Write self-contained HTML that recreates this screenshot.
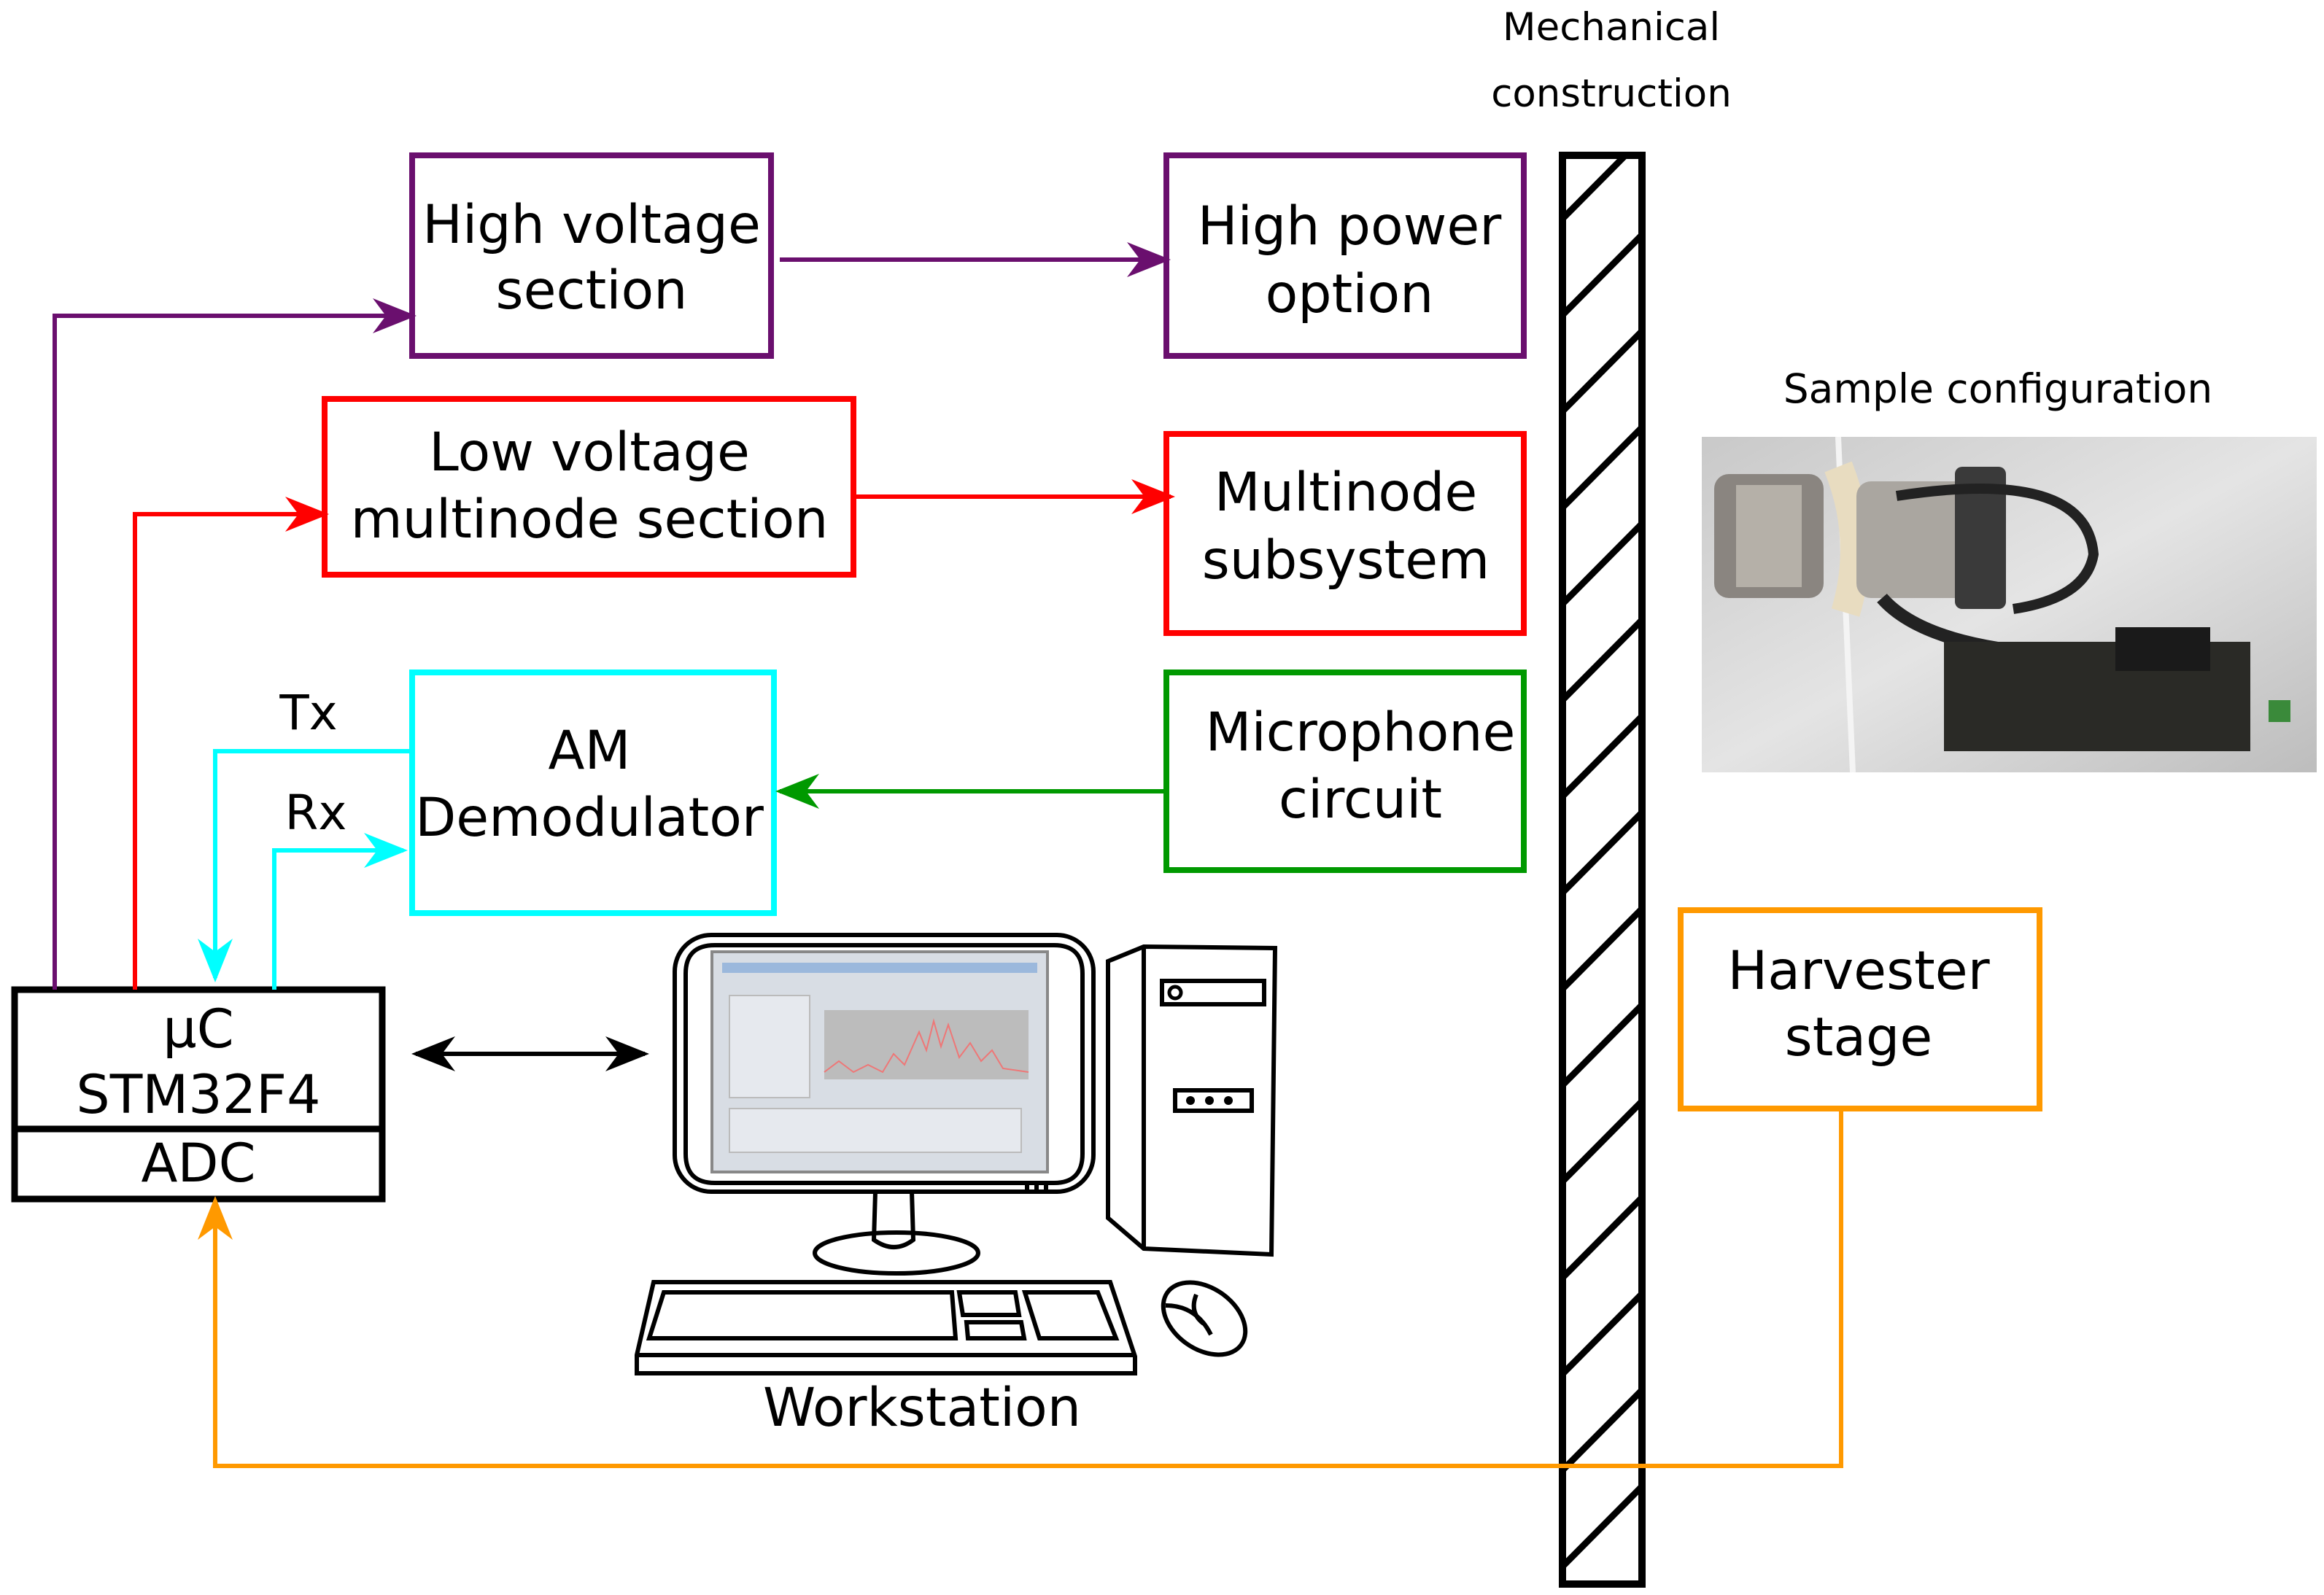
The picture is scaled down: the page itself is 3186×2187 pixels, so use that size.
<!DOCTYPE html>
<html><head><meta charset="utf-8"><style>
html,body{margin:0;padding:0;background:#fff;}
svg{display:block;}
text{font-family:"DejaVu Sans","Liberation Sans",sans-serif;}
</style></head><body>
<svg width="3186" height="2187" viewBox="0 0 3186 2187" xmlns="http://www.w3.org/2000/svg">
<defs>
<marker id="ar" markerWidth="10" markerHeight="8" refX="9" refY="4" orient="auto" viewBox="0 0 10 8" markerUnits="strokeWidth"><path d="M0,0 L10,4 L0,8 L3,4z" fill="#f00"/></marker>
<marker id="ac" markerWidth="10" markerHeight="8" refX="9" refY="4" orient="auto" viewBox="0 0 10 8" markerUnits="strokeWidth"><path d="M0,0 L10,4 L0,8 L3,4z" fill="#0ff"/></marker>
<marker id="ag" markerWidth="10" markerHeight="8" refX="9" refY="4" orient="auto" viewBox="0 0 10 8" markerUnits="strokeWidth"><path d="M0,0 L10,4 L0,8 L3,4z" fill="#090"/></marker>
<marker id="ao" markerWidth="10" markerHeight="8" refX="9" refY="4" orient="auto" viewBox="0 0 10 8" markerUnits="strokeWidth"><path d="M0,0 L10,4 L0,8 L3,4z" fill="#f90"/></marker>
<marker id="ak" markerWidth="10" markerHeight="8" refX="9" refY="4" orient="auto-start-reverse" viewBox="0 0 10 8" markerUnits="strokeWidth"><path d="M0,0 L10,4 L0,8 L3,4z" fill="#000"/></marker>
<marker id="ap2" markerWidth="10" markerHeight="8" refX="9" refY="4" orient="auto" viewBox="0 0 10 8" markerUnits="strokeWidth"><path d="M0,0 L10,4 L0,8 L3,4z" fill="#6a0f6e"/></marker>
<linearGradient id="pg" x1="0" y1="0" x2="1" y2="1"><stop offset="0" stop-color="#c9c9c9"/><stop offset=".5" stop-color="#e4e4e4"/><stop offset="1" stop-color="#bdbdbd"/></linearGradient>
<clipPath id="bc"><rect x="2142" y="213" width="109" height="1959"/></clipPath>
</defs>

<text x="2209" y="55" font-size="53" text-anchor="middle">Mechanical</text>
<text x="2209" y="146" font-size="53" text-anchor="middle">construction</text>
<g clip-path="url(#bc)" stroke="#000" stroke-width="9" fill="none" id="hatch"></g>
<rect x="2142" y="213" width="109" height="1959" fill="none" stroke="#000" stroke-width="10"/>

<g stroke-width="8" fill="none">
<rect x="565" y="213" width="492" height="275" stroke="#6a0f6e"/>
<rect x="1599" y="213" width="490" height="275" stroke="#6a0f6e"/>
<rect x="445" y="547" width="725" height="241" stroke="#f00"/>
<rect x="1599" y="595" width="490" height="273" stroke="#f00"/>
<rect x="565" y="922" width="496" height="330" stroke="#0ff"/>
<rect x="1599" y="922" width="490" height="271" stroke="#090"/>
<rect x="2304" y="1248" width="492" height="272" stroke="#f90"/>
<rect x="20" y="1357" width="504" height="287" stroke="#000" stroke-width="9"/>
<line x1="20" y1="1548" x2="524" y2="1548" stroke="#000" stroke-width="9"/>
</g>
<g font-size="73" text-anchor="middle">
<text x="811" y="333">High voltage</text><text x="811" y="423">section</text>
<text x="1850" y="335">High power</text><text x="1850" y="428">option</text>
<text x="808" y="645">Low voltage</text><text x="808" y="737">multinode section</text>
<text x="1845" y="700">Multinode</text><text x="1845" y="793">subsystem</text>
<text x="808" y="1054">AM</text><text x="808" y="1146">Demodulator</text>
<text x="1865" y="1029">Microphone</text><text x="1865" y="1121">circuit</text>
<text x="2548" y="1356">Harvester</text><text x="2548" y="1447">stage</text>
<text x="272" y="1436">µC</text><text x="272" y="1526">STM32F4</text>
<text x="272" y="1620">ADC</text>
<text x="1264" y="1955">Workstation</text>
</g>
<text x="423" y="1000" font-size="66" text-anchor="middle">Tx</text>
<text x="433" y="1137" font-size="66" text-anchor="middle">Rx</text>
<text x="2739" y="552" font-size="55" text-anchor="middle">Sample configuration</text>

<g fill="none" stroke-width="6">
<path d="M75,1357 V433 H565" stroke="#6a0f6e" marker-end="url(#ap2)"/>
<path d="M1069,356 H1599" stroke="#6a0f6e" marker-end="url(#ap2)"/>
<path d="M185,1357 V705 H445" stroke="#f00" marker-end="url(#ar)"/>
<path d="M1170,681 H1605" stroke="#f00" marker-end="url(#ar)"/>
<path d="M565,1030 H295 V1341" stroke="#0ff" marker-end="url(#ac)"/>
<path d="M376,1357 V1166 H553" stroke="#0ff" marker-end="url(#ac)"/>
<path d="M1599,1085 H1069" stroke="#090" marker-end="url(#ag)"/>
<path d="M2524,1520 V2010 H295 V1646" stroke="#f90" marker-end="url(#ao)"/>
<path d="M570,1445 H884" stroke="#000" marker-start="url(#ak)" marker-end="url(#ak)"/>
</g>

<rect x="2333" y="599" width="843" height="460" fill="url(#pg)"/>
<path d="M2520,599 L2540,1059" stroke="#f4f4f4" stroke-width="8"/>
<rect x="2350" y="650" width="150" height="170" rx="20" fill="#8a8580"/>
<rect x="2380" y="665" width="90" height="140" fill="#b5b0a8"/>
<path d="M2520,640 Q2560,740 2530,840" stroke="#e8dcc0" stroke-width="40" fill="none"/>
<rect x="2545" y="660" width="200" height="160" rx="20" fill="#aaa6a0"/>
<rect x="2680" y="640" width="70" height="195" rx="10" fill="#3a3a3a"/>
<path d="M2600,680 Q2860,640 2870,760 Q2860,820 2760,835" stroke="#222" stroke-width="14" fill="none"/>
<path d="M2580,820 Q2650,900 2900,900" stroke="#222" stroke-width="18" fill="none"/>
<rect x="2665" y="880" width="420" height="150" fill="#2a2a26"/>
<rect x="2900" y="860" width="130" height="60" fill="#1a1a1a"/>
<rect x="3110" y="960" width="30" height="30" fill="#3a8a3a"/>

<g fill="none" stroke="#000" stroke-width="6">
<rect x="925" y="1282" width="574" height="352" rx="50"/>
<path d="M980,1296 H1445 Q1484,1296 1484,1335 V1582 Q1484,1622 1445,1622 H980 Q940,1622 940,1582 V1335 Q940,1296 980,1296 Z"/>
<path d="M1200,1634 L1198,1700 Q1226,1720 1252,1700 L1250,1634"/>
<ellipse cx="1229" cy="1718" rx="112" ry="28"/>
<path d="M896,1758 H1522 L1556,1860 V1883 H873 V1858 Z M873,1858 H1556"/>
<path d="M910,1772 H1305 L1310,1835 H890 Z"/>
<path d="M1315,1772 H1392 L1397,1803 H1320 Z"/>
<path d="M1325,1813 H1400 L1404,1835 H1327 Z"/>
<path d="M1405,1772 H1505 L1530,1835 H1425 Z"/>
<ellipse cx="1651" cy="1808" rx="62" ry="42" transform="rotate(35 1651 1808)"/>
<path d="M1598,1790 Q1640,1790 1660,1830 M1640,1775 Q1630,1800 1650,1815"/>
<path d="M1519,1318 L1568,1298 L1748,1300 L1743,1720 L1568,1712 L1519,1670 Z M1568,1298 V1712"/>
<rect x="1593" y="1345" width="140" height="32"/>
<rect x="1611" y="1495" width="105" height="28"/>
</g>
<circle cx="1611" cy="1361" r="8" fill="none" stroke="#000" stroke-width="5"/>
<g fill="#000"><circle cx="1632" cy="1509" r="6"/><circle cx="1658" cy="1509" r="6"/><circle cx="1684" cy="1509" r="6"/>
<rect x="1405" y="1620" width="6" height="12"/><rect x="1418" y="1620" width="6" height="12"/><rect x="1431" y="1620" width="6" height="12"/></g>
<rect x="976" y="1305" width="460" height="302" fill="#d8dde4" stroke="#888" stroke-width="4"/>
<rect x="990" y="1320" width="432" height="14" fill="#9bb8dc"/>
<rect x="1000" y="1365" width="110" height="140" fill="#e6e9ee" stroke="#bbb" stroke-width="2"/>
<rect x="1130" y="1385" width="280" height="95" fill="#bcbcbc"/>
<polyline points="1130,1470 1150,1455 1170,1470 1190,1460 1210,1470 1225,1445 1240,1460 1260,1415 1270,1440 1280,1400 1290,1435 1300,1405 1315,1450 1330,1430 1345,1455 1360,1440 1375,1465 1410,1470" fill="none" stroke="#e77" stroke-width="2"/>
<rect x="1000" y="1520" width="400" height="60" fill="#e6e9ee" stroke="#bbb" stroke-width="2"/>
</svg>
<script>
(function(){var g=document.getElementById('hatch');var s='';for(var y=300;y<2400;y+=132){s+='<line x1="2142" y1="'+y+'" x2="2251" y2="'+(y-110)+'"/>';}g.innerHTML=s;})();
</script>
</body></html>
